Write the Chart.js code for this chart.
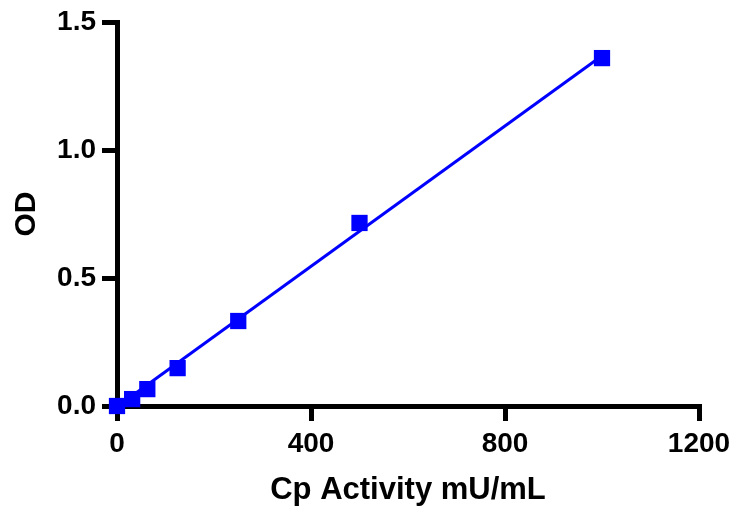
<!DOCTYPE html>
<html>
<head>
<meta charset="utf-8">
<script src="https://cdn.jsdelivr.net/npm/chart.js@4"></script>
<style>
  html, body { margin: 0; padding: 0; background: #fff; }
  #wrap { width: 733px; height: 510px; }
</style>
</head>
<body>
<div id="wrap"><canvas id="c" width="733" height="510"></canvas></div>
<script>
// Data
const activity = [0, 31.25, 62.5, 125, 250, 500, 1000];          // Cp Activity mU/mL
const od = [0.0, 0.027, 0.066, 0.148, 0.332, 0.715, 1.359];        // OD
const fitX = [0, 1000];                                            // fitted line ends
const fitY = [-0.003, 1.368];
const xTickLabels = ['0', '400', '800', '1200'];
const yTickLabels = ['0.0', '0.5', '1.0', '1.5'];
const xTitle = 'Cp Activity mU/mL';
const yTitle = 'OD';

const blue = '#0000FF';
const FONT = '"Liberation Sans", Arial, Helvetica, sans-serif';

const pts = activity.map((x, i) => ({ x: x, y: od[i] }));
const fit = fitX.map((x, i) => ({ x: x, y: fitY[i] }));

new Chart(document.getElementById('c'), {
  type: 'scatter',
  data: {
    datasets: [
      {
        label: 'fit',
        data: fit,
        showLine: true,
        borderColor: blue,
        borderWidth: 3,
        pointRadius: 0,
        fill: false,
        clip: false,
        order: 2
      },
      {
        label: 'OD',
        data: pts,
        showLine: false,
        pointStyle: 'rect',
        pointRadius: 11.5,
        pointBackgroundColor: blue,
        pointBorderColor: blue,
        pointBorderWidth: 0,
        clip: false,
        order: 1
      }
    ]
  },
  options: {
    responsive: false,
    animation: false,
    devicePixelRatio: 1,
    layout: { padding: { top: 22, right: 34, left: 0, bottom: 0 } },
    plugins: { legend: { display: false }, tooltip: { enabled: false } },
    scales: {
      x: {
        type: 'linear',
        min: 0, max: 1200,
        afterFit: (s) => { s.height = 104; s.paddingLeft = 0; s.paddingRight = 0; },
        ticks: {
          stepSize: 400,
          color: '#000',
          padding: 6,
          maxRotation: 0,
          font: { family: FONT, size: 28, weight: 'bold' },
          callback: (v, i) => xTickLabels[i]
        },
        grid: { display: true, drawOnChartArea: false, drawTicks: true, tickLength: 15, lineWidth: 5, color: '#000' },
        border: { display: true, width: 5, color: '#000' },
        title: {
          display: true, text: xTitle, color: '#000',
          font: { family: FONT, size: 31, weight: 'bold' },
          padding: { top: 0, bottom: 1 }
        }
      },
      y: {
        type: 'linear',
        min: 0, max: 1.5,
        afterFit: (s) => { s.width = 117; s.paddingTop = 0; s.paddingBottom = 0; },
        ticks: {
          stepSize: 0.5,
          color: '#000',
          padding: 6,
          font: { family: FONT, size: 28, weight: 'bold' },
          callback: (v, i) => yTickLabels[i]
        },
        grid: { display: true, drawOnChartArea: false, drawTicks: true, tickLength: 15, lineWidth: 5, color: '#000' },
        border: { display: true, width: 5, color: '#000' },
        title: {
          display: true, text: yTitle, color: '#000',
          font: { family: FONT, size: 30, weight: 'bold' },
          padding: { top: 9, bottom: 0 }
        }
      }
    }
  }
});
</script>
</body>
</html>
